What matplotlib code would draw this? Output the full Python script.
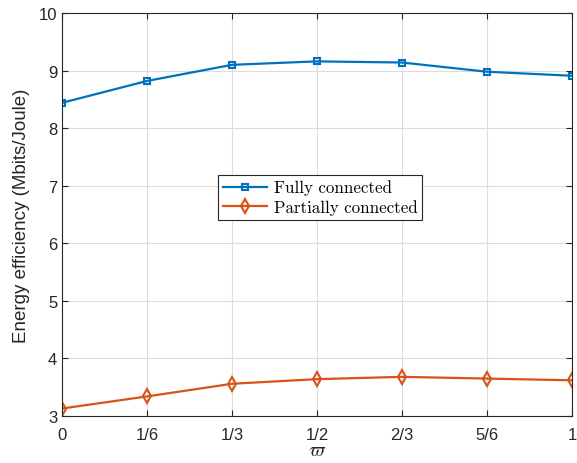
import matplotlib
matplotlib.use("Agg")
import matplotlib.pyplot as plt

# weighting factor and the two energy-efficiency curves
varpi_labels = ["0", "1/6", "1/3", "1/2", "2/3", "5/6", "1"]
varpi = [0, 1 / 6, 1 / 3, 1 / 2, 2 / 3, 5 / 6, 1]
ee_full = [8.44, 8.82, 9.10, 9.16, 9.14, 8.98, 8.91]
ee_partial = [3.13, 3.34, 3.56, 3.64, 3.68, 3.65, 3.62]

blue = "#0072BD"
orange = "#D95319"

plt.rcParams["font.family"] = ["Liberation Sans", "DejaVu Sans"]
plt.rcParams["mathtext.fontset"] = "cm"

fig = plt.figure(figsize=(5.77, 4.64), dpi=100)
ax = fig.add_axes([0.1075, 0.1013, 0.8838, 0.8685])

ax.plot(varpi, ee_full, color=blue, lw=1.6, marker="s", ms=5,
        mfc="none", mew=1.5, label="Fully connected")
ax.plot(varpi, ee_partial, color=orange, lw=1.6, marker="d", ms=7,
        mfc="none", mew=1.5, label="Partially connected")

ax.set_xlim(0, 1)
ax.set_ylim(3, 10)
ax.set_xticks(varpi)
ax.set_xticklabels(varpi_labels)
ax.set_yticks(range(3, 11))
ax.tick_params(direction="in", top=True, right=True, labelsize=12,
               colors="#262626", length=4, width=0.8)
ax.tick_params(axis="x", pad=8)
ax.grid(True, color="#dcdcdc", lw=0.8)
ax.set_axisbelow(True)
for s in ax.spines.values():
    s.set_color("#262626")
    s.set_linewidth(0.8)

ax.set_xlabel(r"$\varpi$", fontsize=14, color="#262626", labelpad=0)
ax.set_ylabel("Energy efficiency (Mbits/Joule)", fontsize=13.5,
              color="#262626", labelpad=6)

leg = ax.legend(loc="center", bbox_to_anchor=(0.506, 0.543),
                prop={"family": "cmr10", "size": 12.2},
                fancybox=False, framealpha=1, edgecolor="#262626",
                borderpad=0.3, handlelength=2.6, labelspacing=0.2,
                handletextpad=0.4, borderaxespad=0)
leg.get_frame().set_linewidth(0.8)

fig.savefig("out.png", dpi=100)
